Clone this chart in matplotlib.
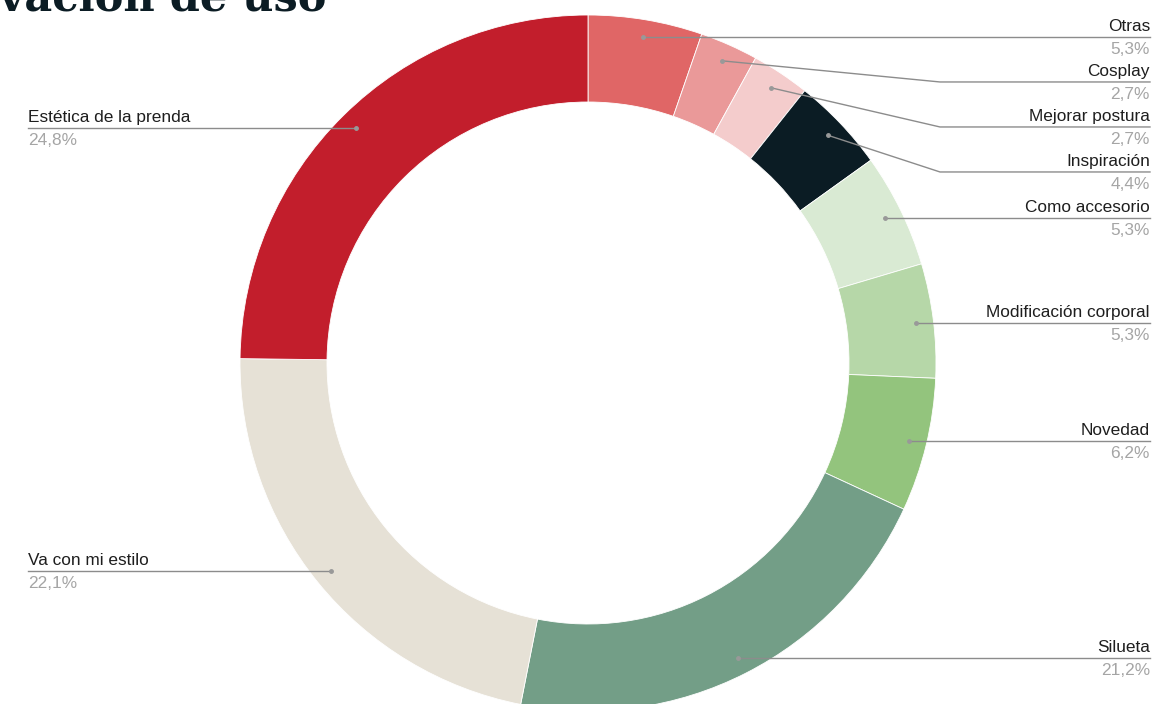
import matplotlib
matplotlib.use('Agg')
from matplotlib import pyplot as plt
import numpy as np

# data, clockwise from 12 o'clock
labels = ['Otras', 'Cosplay', 'Mejorar postura', 'Inspiración', 'Como accesorio',
          'Modificación corporal', 'Novedad', 'Silueta', 'Va con mi estilo',
          'Estética de la prenda']
values = [5.3, 2.7, 2.7, 4.4, 5.3, 5.3, 6.2, 21.2, 22.1, 24.8]
colors = ['#E06666', '#EA9999', '#F4CCCC', '#0B1C24', '#D9EAD3',
          '#B6D7A8', '#93C47D', '#739E87', '#E6E1D6', '#C21E2C']
title = 'Motivación de uso'

W, H = 1154, 704
cx, cy, R = 588, 363, 348   # pixel centre / radius of donut

fig = plt.figure(figsize=(W / 100, H / 100), dpi=100)
ax = fig.add_axes([0, 0, 1, 1])
wedges, _ = ax.pie(values, colors=colors, startangle=90, counterclock=False,
                   radius=1, wedgeprops=dict(width=0.25, edgecolor='white', linewidth=0.6))
ax.set_xlim(-cx / R, (W - cx) / R)
ax.set_ylim(-(H - cy) / R, cy / R)
ax.set_aspect('auto')
ax.axis('off')

font = 'Liberation Sans'
right_x = (1150 - cx) / R
left_x = (28 - cx) / R
elbow_x = (940 - cx) / R
gap = 45 / R
line_c = '#8c8c8c'

# label positions: mid angle of each slice
cum = np.cumsum(values) - np.array(values) / 2
angles = np.deg2rad(90 - cum / sum(values) * 360)
dots = [(0.95 * np.cos(a), 0.95 * np.sin(a)) for a in angles]

last_y = None
for lab, v, (dx, dy) in zip(labels, values, dots):
    pct = ('%.1f%%' % v).replace('.', ',')
    if dx >= 0:
        ly = dy if last_y is None else min(dy, last_y - gap)
        last_y = ly
        if abs(ly - dy) > 1e-6:
            xs, ys = [dx, elbow_x, right_x], [dy, ly, ly]
        else:
            xs, ys = [dx, right_x], [dy, dy]
        tx, ha = right_x, 'right'
    else:
        ly = dy
        xs, ys = [dx, left_x], [dy, dy]
        tx, ha = left_x, 'left'
    ax.plot(xs, ys, color=line_c, lw=1, clip_on=False, zorder=3)
    ax.plot([dx], [dy], 'o', color='#999999', ms=2.5, clip_on=False, zorder=4)
    ax.text(tx, ly + 3 / R, lab, ha=ha, va='bottom', fontsize=12.4, color='#1e1e1e', family=font)
    ax.text(tx, ly - 5 / R, pct, ha=ha, va='top', fontsize=12.4, color='#A5A5A5', family=font)

fig.text(326 / W, 1 - 11 / H, title, ha='right', va='baseline', fontsize=31,
         fontweight='bold', family='DejaVu Serif', color='#0B1C24')

fig.savefig('out.png', dpi=100)
